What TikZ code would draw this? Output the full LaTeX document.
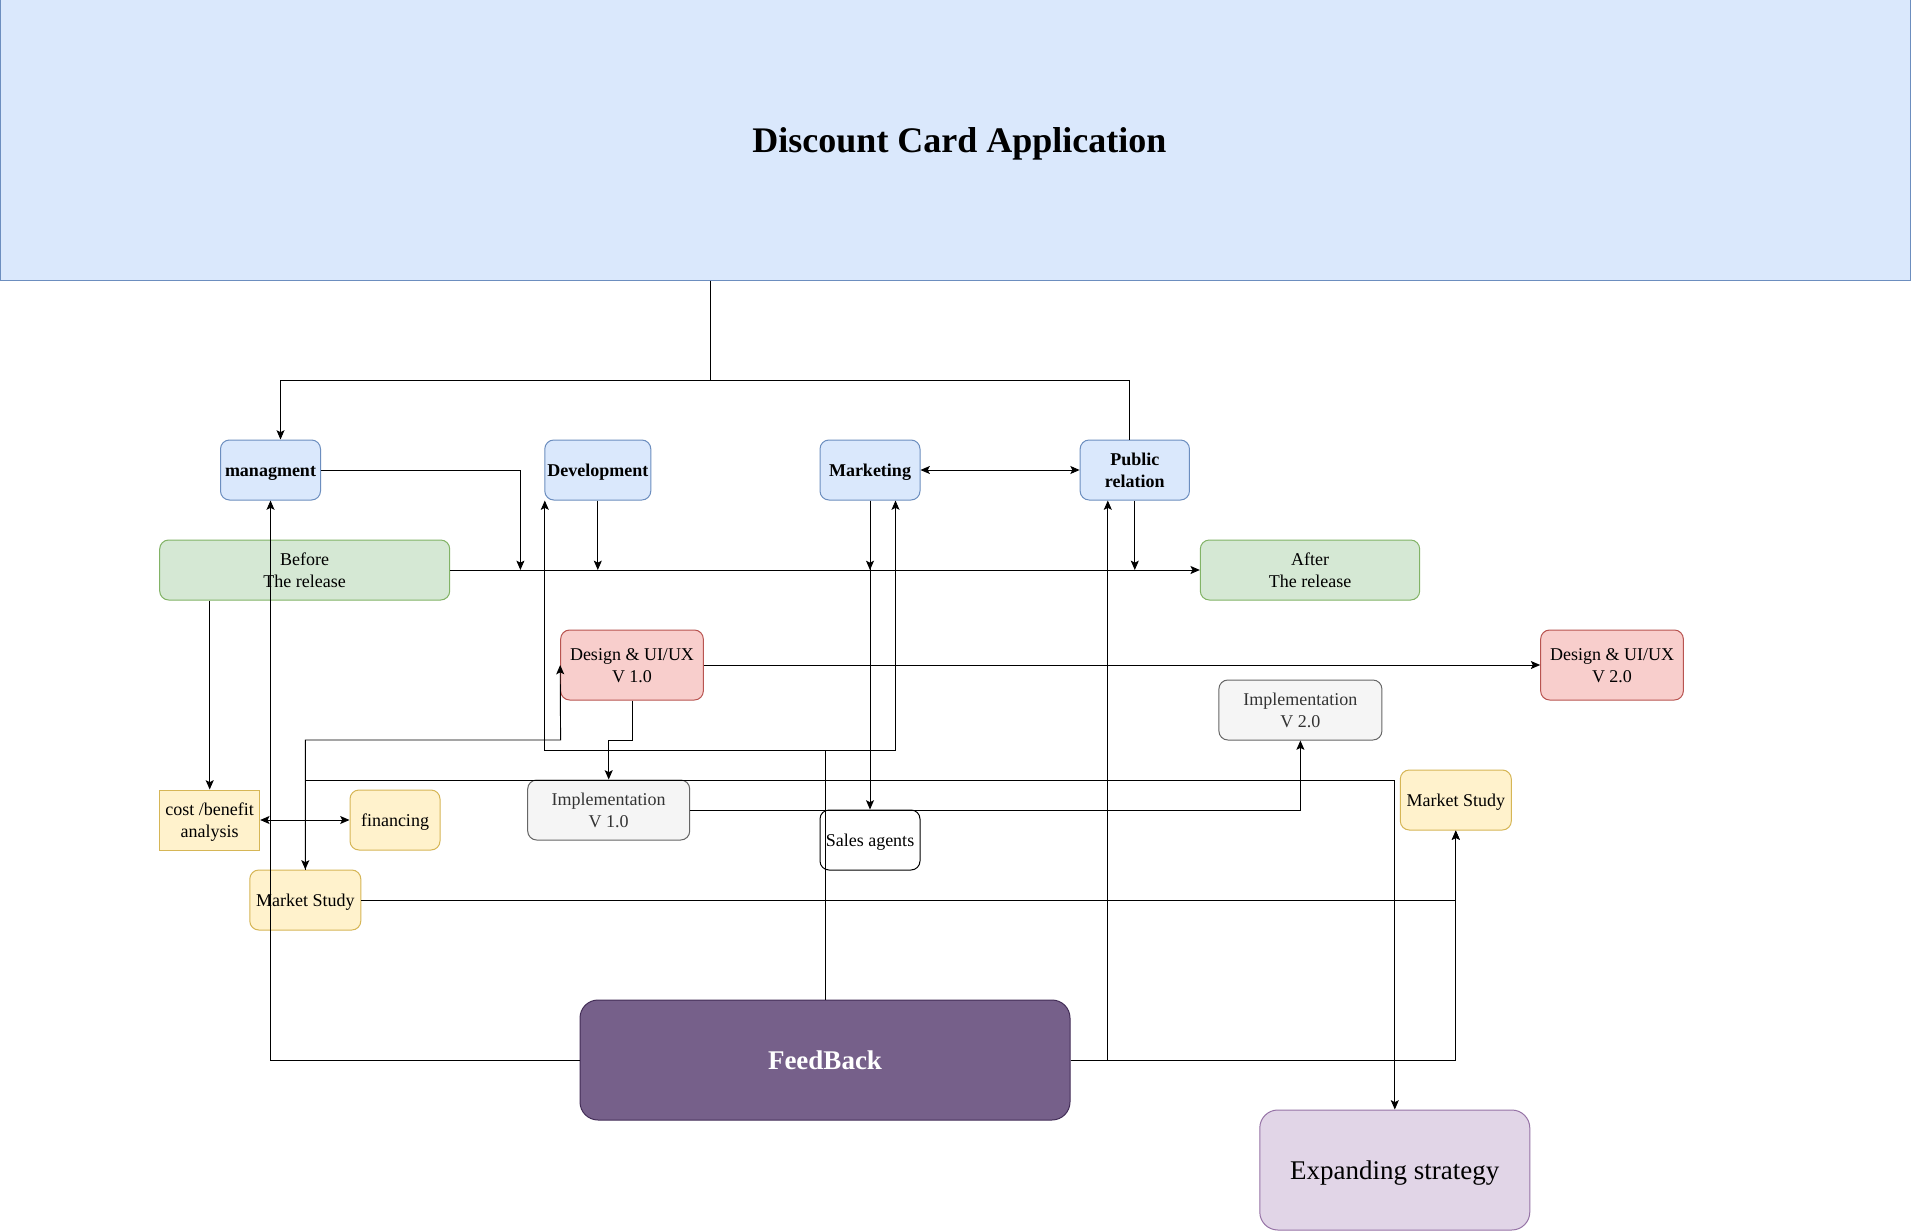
\documentclass[tikz,border=0pt]{standalone}
\usepackage{fontspec}
\setmainfont{Liberation Serif}
\usetikzlibrary{arrows.meta,calc}
\definecolor{blueF}{HTML}{DAE8FC}
\definecolor{blueD}{HTML}{6C8EBF}
\definecolor{greenF}{HTML}{D5E8D4}
\definecolor{greenD}{HTML}{82B366}
\definecolor{redF}{HTML}{F8CECC}
\definecolor{redD}{HTML}{B85450}
\definecolor{grayF}{HTML}{F5F5F5}
\definecolor{grayD}{HTML}{666666}
\definecolor{grayT}{HTML}{333333}
\definecolor{yelF}{HTML}{FFF2CC}
\definecolor{yelD}{HTML}{D6B656}
\definecolor{purF}{HTML}{76608A}
\definecolor{purD}{HTML}{432D57}
\definecolor{lpurF}{HTML}{E1D5E7}
\definecolor{lpurD}{HTML}{9673A6}
\newcommand{\dstrut}{\rule[-0.2625em]{0pt}{1.2em}}
\begin{document}
\begin{tikzpicture}[x=0.75pt,y=-0.75pt,
  base/.style={draw, rounded corners=6.75pt, inner sep=0pt, align=center,
    font=\fontsize{13.5}{16.5}\selectfont, line width=0.75pt,
    execute at begin node={\dstrut}, execute at end node={\dstrut}},
  bluebox/.style={base, fill=blueF, draw=blueD, font=\fontsize{13.5}{16.5}\selectfont\bfseries},
  greenbox/.style={base, fill=greenF, draw=greenD},
  redbox/.style={base, fill=redF, draw=redD},
  graybox/.style={base, fill=grayF, draw=grayD, text=grayT},
  yellowbox/.style={base, fill=yelF, draw=yelD},
  plainbox/.style={base, fill=white, draw=black},
  fbbox/.style={base, rounded corners=13.5pt, fill=purF, draw=purD, text=white,
    font=\fontsize{20.25}{24.3}\selectfont\bfseries},
  exbox/.style={base, rounded corners=13.5pt, fill=lpurF, draw=lpurD,
    font=\fontsize{20.25}{24.3}\selectfont},
  ln/.style={line width=0.7pt},
  arr/.style={ln, -{Stealth[length=7pt,width=6pt,inset=1.5pt]}},
  darr/.style={ln, {Stealth[length=7pt,width=6pt,inset=1.5pt]}-{Stealth[length=7pt,width=6pt,inset=1.5pt]}}]
\useasboundingbox (0,0) rectangle (1911,1231);
\fill[white] (0,0) rectangle (1911,1231);

% nodes
\node[base, sharp corners, draw=blueD, fill=blueF, minimum width=1432.5pt, minimum height=210pt,
  font=\fontsize{27}{32.4}\selectfont\bfseries] (title) at (955.5,140) {\hspace*{6pt}Discount Card Application};
\node[bluebox, minimum width=75pt, minimum height=45pt] (mg) at (270.5,470) {managment};
\node[bluebox, minimum width=79.5pt, minimum height=45pt] (dev) at (597.8,470) {Development};
\node[bluebox, minimum width=75pt, minimum height=45pt] (mkt) at (870,470) {Marketing};
\node[bluebox, minimum width=82pt, minimum height=45pt] (pr) at (1134.8,470) {\dstrut Public\\relation};
\node[greenbox, minimum width=217.5pt, minimum height=45pt] (before) at (304.7,570) {\dstrut Before\\The release};
\node[greenbox, minimum width=164.5pt, minimum height=45pt] (after) at (1310,570) {\dstrut After\\The release};
\node[redbox, minimum width=107pt, minimum height=52.5pt] (d1) at (632,665) {\dstrut Design \& UI/UX\\V 1.0};
\node[redbox, minimum width=107pt, minimum height=52.5pt] (d2) at (1612,665) {\dstrut Design \& UI/UX\\V 2.0};
\node[graybox, minimum width=122.25pt, minimum height=45pt] (i2) at (1300.4,710) {\dstrut Implementation\\V 2.0};
\node[graybox, minimum width=121.5pt, minimum height=45pt] (i1) at (608.7,810) {\dstrut Implementation\\V 1.0};
\node[plainbox, minimum width=75pt, minimum height=45pt] (sa) at (870,840) {Sales agents};
\node[yellowbox, sharp corners, minimum width=75pt, minimum height=45pt] (cb) at (209.7,820) {\dstrut cost /benefit\\analysis};
\node[yellowbox, minimum width=67.5pt, minimum height=45pt] (fin) at (395,820) {financing};
\node[yellowbox, minimum width=83.25pt, minimum height=45pt] (ms1) at (305.3,900) {Market Study};
\node[yellowbox, minimum width=83.25pt, minimum height=45pt] (ms2) at (1455.8,800) {Market Study};
\node[fbbox, minimum width=367.5pt, minimum height=90pt] (fb) at (825,1060) {FeedBack};
\node[exbox, minimum width=202.5pt, minimum height=90pt] (ex) at (1394.8,1170) {Expanding strategy};

% helper coordinates
\coordinate (tj) at (710.5,380);
\coordinate (mgj) at (520.4,570);
\coordinate (d1b) at (632,740);
\coordinate (k1) at (560.6,740);
\coordinate (k2) at (1394.8,780);
\coordinate (k3) at (825,750);

% connectors
\draw[ln] (title.south -| tj) -- (tj);
\draw[arr] (tj) -| ($(mg.north)+(10,0)$);
\draw[ln] (tj) -| ($(pr.north)+(-5,0)$);
\draw[arr] (mg.east) -| (mgj);
\draw[arr] (dev.south) -- (dev.south |- before.east);
\draw[darr] (mkt.east) -- (pr.west);
\draw[arr] (mkt.south) -- (mkt.south |- before.east);
\draw[arr] (mkt.south) -- (sa.north);
\draw[arr] (pr.south) -- (pr.south |- before.east);
\draw[arr] (before.east) -- (after.west);
\draw[arr] (before.south -| cb.north) -- (cb.north);
\draw[darr] (cb.east) -- (fin.west);
\draw[arr] (d1.south) -- (d1b) -| (i1.north);
\draw[darr] (ms1.north) |- (k1) -- (d1.west);
\draw[arr] (ms1.north) |- (k2) -- (ex.north);
\draw[ln] (fb.north) -- (k3);
\draw[arr] (k3) -| ($(dev.south west)+(0.5,0)$);
\draw[arr] (k3) -| ($(mkt.south)+(25.5,0)$);
\draw[arr] (fb.west) -| (mg.south);
\draw[arr] (fb.east) -| ($(pr.south)+(-27,0)$);
\draw[arr] (fb.east) -| (ms2.south);
\draw[arr] (ms1.east) -| (ms2.south);
\draw[arr] (i1.east) -| (i2.south);
\draw[arr] (d1.east) -- (d2.west);
\end{tikzpicture}
\end{document}
